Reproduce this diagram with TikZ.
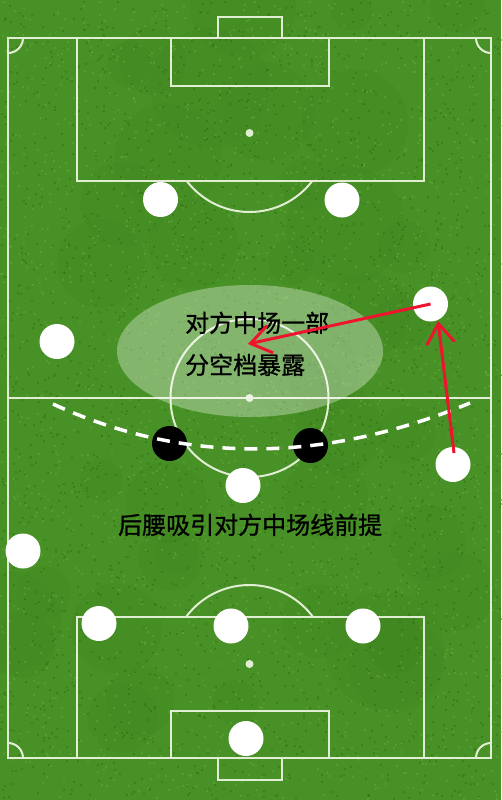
\documentclass[tikz,border=0pt]{standalone}
\usepackage{fontspec}
\newfontfamily\cjk[FakeBold=1]{Noto Sans CJK SC}
\usetikzlibrary{arrows.meta}
\definecolor{grass}{RGB}{72,145,38}
\definecolor{grassdark}{RGB}{45,110,20}
\definecolor{grasslight}{RGB}{110,175,60}
\definecolor{arrowred}{RGB}{238,20,45}
\definecolor{linecol}{RGB}{226,238,212}
\begin{document}
\begin{tikzpicture}[x=1pt,y=-1pt,
  fieldline/.style={draw=linecol,line width=2pt},
  spot/.style={fill=linecol},
  player/.style={circle,fill=white,minimum size=35pt,inner sep=0pt},
  opp/.style={circle,fill=black,minimum size=35pt,inner sep=0pt},
  redarrow/.style={draw=arrowred,line width=3pt,-{Straight Barb[length=20pt,width=28pt]}},
  txt/.style={font=\cjk\fontsize{24}{28}\selectfont,text=black,inner sep=0pt,anchor=base west},
  dashcurve/.style={draw=white,line width=3.5pt,dash pattern=on 13pt off 9pt}]
\useasboundingbox (0,0) rectangle (501,800);
% grass
\fill[grass] (0,0) rectangle (501,800);
\pgfmathsetseed{11}
\foreach \i in {1,...,40}{
  \fill[grassdark,opacity=0.08] ({rnd*501},{rnd*800}) circle[radius={20+rnd*40}];
}
\foreach \i in {1,...,2500}{
  \fill[grassdark,opacity=0.45] ({rnd*501},{rnd*800}) rectangle ++(2,2);
}
\foreach \i in {1,...,2000}{
  \fill[grasslight,opacity=0.4] ({rnd*501},{rnd*800}) rectangle ++(2,2);
}
% field lines
\draw[fieldline] (8,38) rectangle (491,758);
\draw[fieldline] (8,398) -- (491,398);
\draw[fieldline] (249.5,398) circle[radius=79];
\draw[fieldline] (77,38) rectangle (424,181);
\draw[fieldline] (171,38) rectangle (329,86);
\draw[fieldline] (218,17) rectangle (282,38);
\draw[fieldline] (77,617) rectangle (424,758);
\draw[fieldline] (171,711) rectangle (329,758);
\draw[fieldline] (218,758) rectangle (282,780);
\fill[spot] (249.5,133) circle[radius=4];
\fill[spot] (249.5,398) circle[radius=4];
\fill[spot] (249.5,664) circle[radius=4];
\begin{scope}
  \clip (0,181) rectangle (501,300);
  \draw[fieldline] (249.5,133) circle[radius=79];
\end{scope}
\begin{scope}
  \clip (0,500) rectangle (501,617);
  \draw[fieldline] (249.5,664) circle[radius=79];
\end{scope}
\begin{scope}
  \clip (8,38) rectangle (491,758);
  \draw[fieldline] (8,38) circle[radius=15];
  \draw[fieldline] (491,38) circle[radius=15];
  \draw[fieldline] (8,758) circle[radius=15];
  \draw[fieldline] (491,758) circle[radius=15];
\end{scope}
% highlighted zone
\fill[white,opacity=0.33] (250,351) ellipse[x radius=133,y radius=66];
% players
\node[player] (w1) at (160.5,199.5) {};
\node[player] (w2) at (342,200) {};
\node[player] (w3) at (430.5,304) {};
\node[player] (w4) at (57,341.5) {};
\node[player] (w5) at (453,464.5) {};
\node[player] (w6) at (243,485.5) {};
\node[player] (w7) at (23,551) {};
\node[player] (w8) at (99,623.5) {};
\node[player] (w9) at (231,626) {};
\node[player] (w10) at (363,626) {};
\node[player] (w11) at (246,738.5) {};
\node[opp] (b1) at (169.5,443.5) {};
\node[opp] (b2) at (310.5,445.5) {};
% dashed line
\coordinate (d1) at (53,404);
\coordinate (d2) at (470,403);
\draw[dashcurve] (d1) .. controls (183,464) and (322,464) .. (d2);
% texts
\node[txt] (t1) at (185,332) {对方中场一部};
\node[txt] (t2) at (185,374) {分空档暴露};
\node[txt] (t3) at (118,534) {后腰吸引对方中场线前提};
% arrows
\coordinate (tip1) at (248,344);
\coordinate (s2) at (454,453);
\coordinate (tip2) at (438,321);
\draw[redarrow] (w3.center) -- (tip1);
\draw[redarrow] (s2) -- (tip2);
\end{tikzpicture}
\end{document}
